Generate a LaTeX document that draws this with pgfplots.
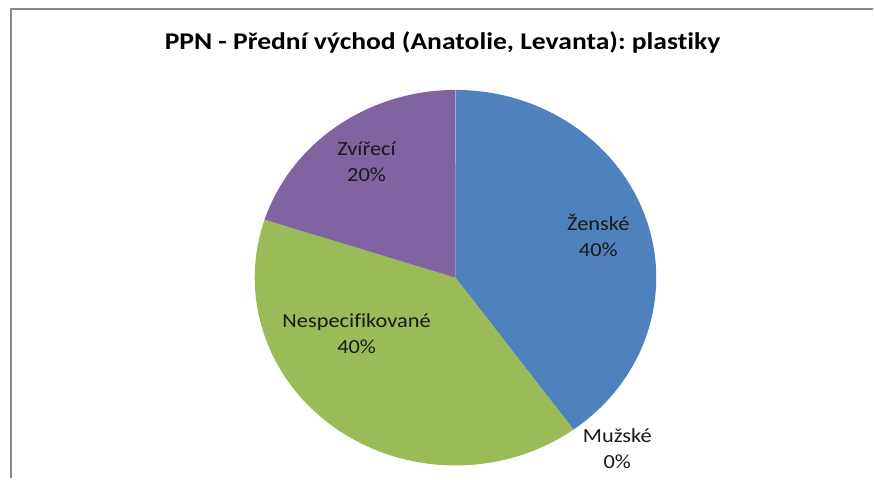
\documentclass[border=0pt]{standalone}
\usepackage{pgfplots}
\pgfplotsset{compat=1.18}
\usepackage{fontspec}
\setmainfont[Ligatures=NoCommon]{Carlito}
\frenchspacing
\definecolor{cblue}{HTML}{4F81BD}
\definecolor{cgreen}{HTML}{9BBB59}
\definecolor{cpurple}{HTML}{8064A2}
\definecolor{cframe}{HTML}{878787}
% values (percent)
\def\vZen{40}
\def\vMuz{0}
\def\vNes{40}
\def\vZvi{20}
\def\cx{456}\def\cy{278}\def\rx{201}\def\ry{188}
\begin{document}
\begin{tikzpicture}
\pgfmathsetmacro{\aA}{90}
\pgfmathsetmacro{\aB}{\aA-3.6*\vZen}
\pgfmathsetmacro{\aC}{\aB-3.6*\vMuz}
\pgfmathsetmacro{\aD}{\aC-3.6*\vNes}
\pgfmathsetmacro{\aE}{\aD-3.6*\vZvi}
\begin{axis}[
  scale only axis, width=874pt, height=479pt,
  xmin=0, xmax=874, ymin=0, ymax=479, y dir=reverse,
  hide axis, clip=false,
]
\path (axis cs:0,0) rectangle (axis cs:874,479);
\addplot[cframe, line width=2pt] coordinates {(11,479) (11,9) (874,9)};
\addplot[fill=cblue, draw=none, domain=\aB:\aA, samples=80]
  ({\cx+\rx*cos(x)},{\cy-\ry*sin(x)}) -- (axis cs:\cx,\cy) -- cycle;
\addplot[fill=cgreen, draw=none, domain=\aD:\aC, samples=80]
  ({\cx+\rx*cos(x)},{\cy-\ry*sin(x)}) -- (axis cs:\cx,\cy) -- cycle;
\addplot[fill=cpurple, draw=none, domain=\aE:\aD, samples=40]
  ({\cx+\rx*cos(x)},{\cy-\ry*sin(x)}) -- (axis cs:\cx,\cy) -- cycle;
\node[font=\fontsize{24}{28}\selectfont\bfseries, xscale=1.15] at (axis cs:443,43) {PPN - Přední východ (Anatolie, Levanta): plastiky};
\tikzset{lbl/.style={font=\fontsize{20}{26}\selectfont, align=center, text=black!90, xscale=1.12}}
\node[lbl] at (axis cs:599,236) {Ženské\\40\%};
\node[lbl] at (axis cs:618,449) {Mužské\\0\%};
\node[lbl] at (axis cs:357,334) {Nespecifikované\\40\%};
\node[lbl] at (axis cs:367,162) {Zvířecí\\20\%};
\end{axis}
\end{tikzpicture}
\end{document}
